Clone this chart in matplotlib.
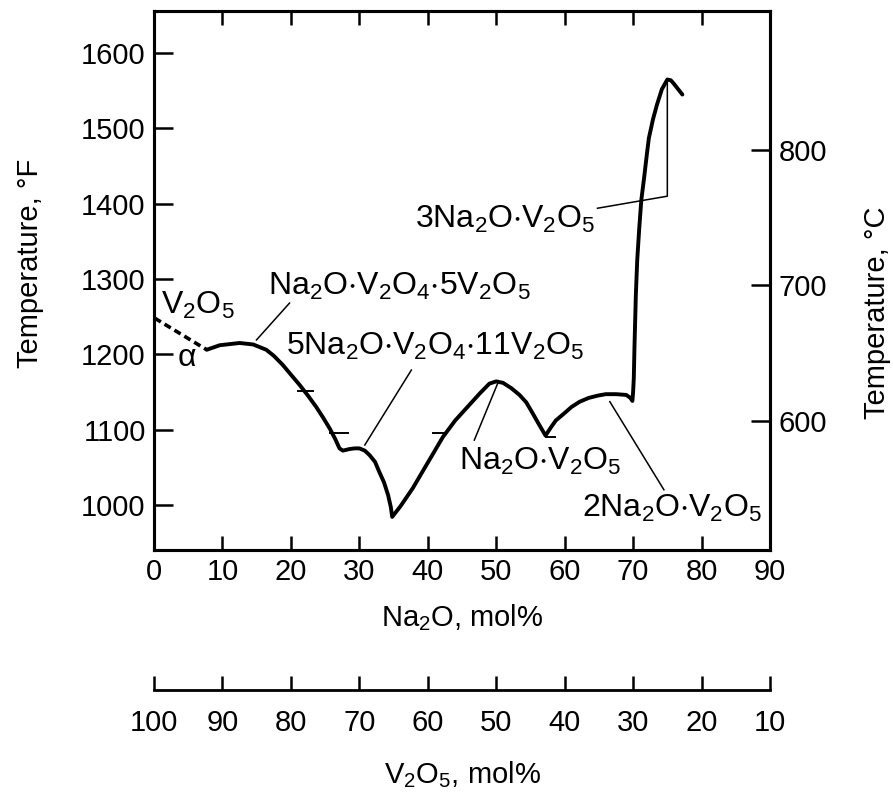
import numpy as np
import matplotlib.pyplot as plt

plt.rcParams['font.family'] = ['Liberation Sans', 'DejaVu Sans']
plt.rcParams['mathtext.fontset'] = 'custom'
plt.rcParams['mathtext.rm'] = 'Liberation Sans'
plt.rcParams['mathtext.it'] = 'Liberation Sans:italic'

# Liquidus of the Na2O-V2O5 system (Na2O mol%, temperature degF)
dash_x = [0.1, 7.7]
dash_t = [1248, 1206]

liq_x = [7.7, 9.6, 12.5, 14.5, 16.4, 17.5, 18.8, 20.0, 21.3, 22.5, 23.7, 24.7,
         25.7, 26.5, 27.1, 27.6, 28.5, 29.3, 30.0, 30.8, 31.5, 32.3, 32.9, 33.6,
         34.2, 34.6, 34.8, 36.0, 37.8, 40.0, 42.2, 44.0, 46.1, 47.6, 49.0, 50.0,
         51.0, 52.2, 53.4, 54.4, 55.3, 56.3, 57.2, 58.0, 58.7, 60.0, 61.0, 62.2,
         63.5, 64.8, 66.0, 67.5, 69.0, 69.6, 69.9, 70.0, 70.1, 70.2, 70.4, 70.6,
         70.9, 71.2, 71.6, 72.0, 72.3, 72.9, 73.5, 74.2, 75.0, 75.5, 75.9, 76.5,
         77.2]
liq_t = [1206, 1212, 1215, 1213, 1206, 1198, 1186, 1173, 1159, 1145, 1130, 1116,
         1101, 1087, 1075, 1072, 1074, 1075, 1075, 1072, 1066, 1057, 1044, 1030,
         1013, 997, 984, 998, 1022, 1056, 1090, 1112, 1133, 1148, 1161, 1164,
         1162, 1155, 1146, 1136, 1122, 1106, 1092, 1103, 1112, 1122, 1130, 1137,
         1142, 1145, 1147, 1147, 1146, 1142, 1138, 1150, 1168, 1210, 1279, 1325,
         1368, 1405, 1434, 1465, 1487, 1512, 1532, 1552, 1565, 1564, 1560, 1553,
         1545]

# small scale marks crossing the curve
mark_x = [[21.0, 23.2], [25.7, 28.3], [40.7, 42.7], [57.2, 58.6]]
mark_t = [1151, 1095, 1095, 1090]

# compound labels: text, text x, text y, alignment, leader line
labels = [
    (r'$\mathregular{Na_2O{\cdot}V_2O_4{\cdot}5V_2O_5}$', 16.7, 1279, 'left',
     [14.97, 19.8], [1219, 1268]),
    (r'$\mathregular{5Na_2O{\cdot}V_2O_4{\cdot}11V_2O_5}$', 19.3, 1199, 'left',
     [30.8, 37.6], [1079.5, 1179]),
    (r'$\mathregular{Na_2O{\cdot}V_2O_5}$', 44.6, 1046, 'left',
     [50.2, 46.8], [1161, 1086]),
    (r'$\mathregular{2Na_2O{\cdot}V_2O_5}$', 62.6, 984, 'left',
     [66.6, 74.5], [1137, 1020]),
    (r'$\mathregular{3Na_2O{\cdot}V_2O_5}$', 64.5, 1368, 'right',
     [64.8, 75.0, 75.0], [1394, 1410, 1563]),
]

f_ticks = [1000, 1100, 1200, 1300, 1400, 1500, 1600]
c_ticks = [600, 700, 800]
na_ticks = [0, 10, 20, 30, 40, 50, 60, 70, 80, 90]
v_ticks = [100, 90, 80, 70, 60, 50, 40, 30, 20, 10]

W, H = 893, 798
fs_ann = 23
fs_tick = 21
fs_lab = 21

fig = plt.figure(figsize=(W / 100, H / 100), dpi=100)
ax = fig.add_axes([154 / W, 1 - 550 / H, 616 / W, 539 / H])

ax.plot(dash_x, dash_t, color='black', lw=2.6, ls=(0, (2.0, 1.2)))
ax.plot(liq_x, liq_t, color='black', lw=2.8, solid_joinstyle='round',
        solid_capstyle='round')
for mx, mt in zip(mark_x, mark_t):
    ax.plot(mx, [mt, mt], color='black', lw=1.4)

for txt, tx, ty, ha, lx, lt in labels:
    ax.text(tx, ty, txt, fontsize=fs_ann, ha=ha, va='baseline')
    ax.plot(lx, lt, color='black', lw=1.1)

ax.text(1.0, 1253, r'$\mathregular{V_2O_5}$', fontsize=fs_ann, ha='left', va='baseline')
ax.text(3.5, 1184, 'α', fontsize=fs_ann, ha='left', va='baseline')

ax.set_xlim(0, 90)
ax.set_ylim(940, 1656)
ax.set_xticks(na_ticks)
ax.set_yticks(f_ticks)
ax.tick_params(axis='x', direction='in', length=10, width=1.8, top=True,
               labelsize=fs_tick, pad=6)
ax.tick_params(axis='y', direction='in', length=14, width=1.8,
               labelsize=fs_tick, pad=6)
for s in ax.spines.values():
    s.set_linewidth(2.2)

# Celsius scale on the right
axc = ax.twinx()
axc.set_ylim((940 - 32) * 5 / 9, (1656 - 32) * 5 / 9)
axc.set_yticks(c_ticks)
axc.tick_params(axis='y', direction='in', length=14, width=1.8,
                labelsize=fs_tick, pad=6)
for s in axc.spines.values():
    s.set_linewidth(2.2)

# V2O5 scale below
axv = fig.add_axes([154 / W, 1 - 690 / H, 616 / W, 1e-4])
axv.set_xlim(100, 10)
axv.set_xticks(v_ticks)
axv.set_yticks([])
for k in ['top', 'left', 'right']:
    axv.spines[k].set_visible(False)
axv.spines['bottom'].set_linewidth(2.0)
axv.tick_params(axis='x', direction='in', length=10, width=1.8,
                labelsize=fs_tick, pad=14)
axv.patch.set_visible(False)

fig.text(30 / W, 1 - 263 / H, 'Temperature, °F', fontsize=fs_lab, rotation=90,
         ha='center', va='center')
fig.text(877 / W, 1 - 313 / H, 'Temperature, °C', fontsize=fs_lab, rotation=90,
         ha='center', va='center')
fig.text(462 / W, 1 - 618 / H, r'$\mathregular{Na_2O}$, mol%', fontsize=fs_lab,
         ha='center', va='center')
fig.text(462 / W, 1 - 775 / H, r'$\mathregular{V_2O_5}$, mol%', fontsize=fs_lab,
         ha='center', va='center')

fig.savefig('out.png', dpi=100)
